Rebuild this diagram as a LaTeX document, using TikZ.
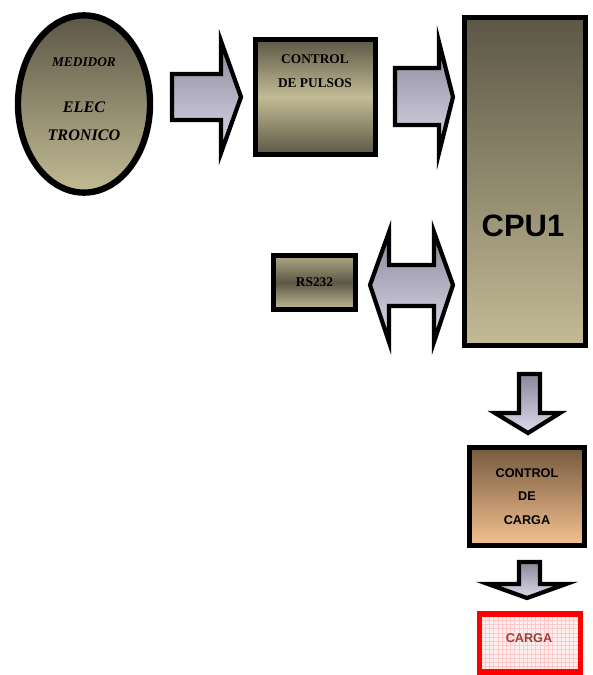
\documentclass[tikz,border=0pt]{standalone}
\usepackage{fontspec}
\setmainfont{Liberation Serif}
\setsansfont{Liberation Sans}
\usepackage{tikz}
\usetikzlibrary{shapes.geometric,patterns}
\definecolor{OLVDK}{HTML}{5C5746}
\definecolor{OLVLT}{HTML}{C3BB95}
\definecolor{ARRTOP}{HTML}{8A8898}
\definecolor{ARRBOT}{HTML}{DEDAEC}
\definecolor{BRNDK}{HTML}{76593F}
\definecolor{BRNLT}{HTML}{F4C291}
\definecolor{LOADRED}{HTML}{FF0000}
\definecolor{LOADTXT}{HTML}{A33A3A}

\begin{document}
\begin{tikzpicture}[
  x=0.025cm, y=-0.025cm,
  box/.style={draw=black, line width=3.5pt, inner sep=0pt},
  olive/.style={box, top color=OLVDK, bottom color=OLVLT},
  band/.style={box, top color=OLVDK, bottom color=OLVDK, middle color=OLVLT},
  bandinv/.style={box, top color=OLVLT!90!black, bottom color=OLVLT, middle color=OLVDK},
  blk/.style={draw=black, line width=3pt, line join=miter, top color=ARRTOP, bottom color=ARRBOT},
  serif/.style={font=\fontsize{9.5}{17}\selectfont\bfseries, align=center},
  sans/.style={font=\sffamily\fontsize{9}{16.7}\selectfont\bfseries, align=center}
]
\useasboundingbox (0,0) rectangle (592,675);

% blocks
\node[olive, ellipse, line width=4.5pt, minimum width=3.3cm, minimum height=4.43cm] (med) at (84,104) {};
\node[band, minimum width=3.0cm, minimum height=2.875cm] (pul) at (315.5,97) {};
\node[olive, minimum width=3.025cm, minimum height=8.2cm] (cpu) at (525,181.5) {};
\node[bandinv, minimum width=2.05cm, minimum height=1.35cm] (rs) at (314.5,282.5) {};
\node[box, top color=BRNDK, bottom color=BRNLT, minimum width=2.875cm, minimum height=2.45cm] (cc) at (527,496.5) {};
\node[draw=LOADRED, line width=4pt, preaction={fill=red!6}, pattern=grid, pattern color=red!22,
      minimum width=2.525cm, minimum height=1.45cm] (load) at (530,643) {};

% texts
\node[serif, font=\fontsize{9.5}{17}\selectfont\bfseries\itshape] (medA) at (84,62) {MEDIDOR};
\node[serif, font=\fontsize{11.5}{20}\selectfont\bfseries\itshape] (medB) at (84,121) {ELEC\\TRONICO};
\node[serif] (pulT) at (315,71) {CONTROL\\DE PULSOS};
\node[font=\sffamily\fontsize{22}{26}\selectfont\bfseries] (cpuT) at (523,226) {CPU1};
\node[serif] (rsT) at (rs.center) {RS232};
\node[sans] (ccT) at (cc.center) {CONTROL\\DE\\CARGA};
\node[sans, text=LOADTXT] (loadT) at (529,638) {CARGA};

% block arrows
\draw[blk] (172,74) -- (221,74) -- (221,41) -- (241,97) -- (221,153) -- (221,120) -- (172,120) -- cycle;
\draw[blk] (395,68) -- (439,68) -- (439,42) -- (453,97) -- (439,153) -- (439,125) -- (395,125) -- cycle;
\draw[blk] (370,285) -- (389,232) -- (389,265) -- (434,265) -- (434,232) -- (453,285)
  -- (434,342) -- (434,306) -- (389,306) -- (389,342) -- cycle;
\draw[blk] (519,374) -- (540,374) -- (540,413) -- (560,413) -- (528,433) -- (495,413) -- (519,413) -- cycle;
\draw[blk] (519,562) -- (540,562) -- (540,584) -- (566,584) -- (527,598) -- (488,584) -- (519,584) -- cycle;

\end{tikzpicture}
\end{document}
